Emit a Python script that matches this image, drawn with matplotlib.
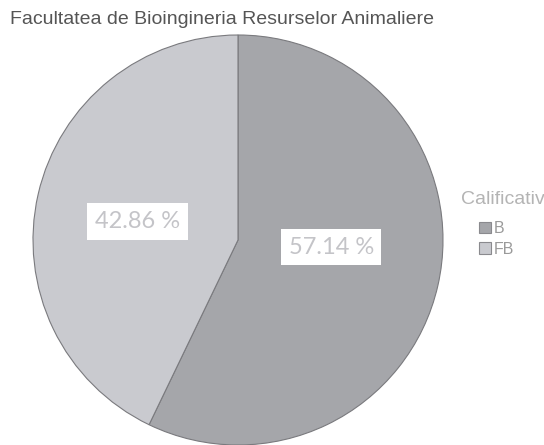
import matplotlib
matplotlib.use("Agg")
import matplotlib.pyplot as plt

title = "Facultatea de Bioingineria Resurselor Animaliere"
legend_title = "Calificativ"
categories = ["B", "FB"]
counts = [4, 3]
colors = ["#a5a6aa", "#c9cacf"]

fig = plt.figure(figsize=(5.44, 4.45), dpi=100)
ax = fig.add_axes([33 / 544, 0.0, 410 / 544, 410 / 445])

wedges, texts, autotexts = ax.pie(
    counts,
    colors=colors,
    startangle=90,
    counterclock=False,
    autopct="%.2f %%",
    pctdistance=0.47,
    wedgeprops=dict(edgecolor="#7a7a7e", linewidth=0.8),
    textprops=dict(family="Lato", fontsize=17, color="#c4c4c8"),
)
# the original places the labels a bit off the wedge bisector
label_pos = [(0.455, -0.035), (-0.49, 0.09)]
for t, pos in zip(autotexts, label_pos):
    t.set_position(pos)
    t.set_bbox(dict(facecolor="white", edgecolor="none", pad=5.5))
ax.set_xlim(-1, 1)
ax.set_ylim(-1, 1)
ax.set_aspect("equal")

fig.text(10 / 544, 1 - 20 / 445, title, ha="left", va="center",
         family="Liberation Sans", fontsize=14, color="#555555")

# legend title sits left of the patches, like the original
fig.text(461 / 544, 1 - 200 / 445, legend_title, ha="left", va="center",
         family="Liberation Sans", fontsize=14, color="#b4b4b4")

leg = fig.legend(wedges, categories, loc="upper left",
                 bbox_to_anchor=(479 / 544, 1 - 221 / 445),
                 frameon=False, prop=dict(family="Liberation Sans", size=11.5),
                 handlelength=0.75, handleheight=0.75, handletextpad=0.15,
                 labelspacing=0.35, borderpad=0, borderaxespad=0)
plt.setp(leg.get_texts(), color="#9a9a9a")
for h in leg.legend_handles:
    h.set_edgecolor("#8a8a8e")

fig.savefig("out.png", dpi=100)
